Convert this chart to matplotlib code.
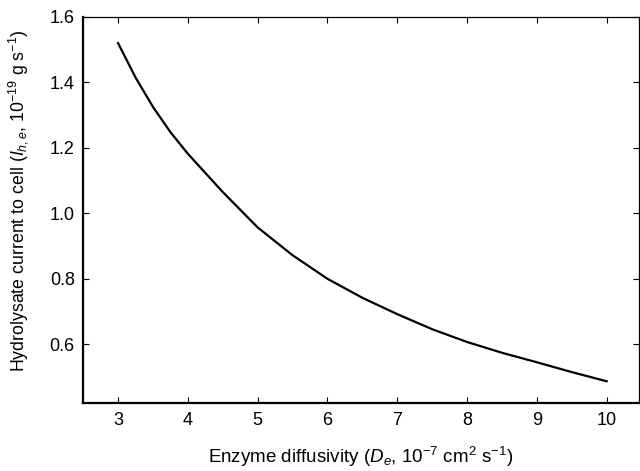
import matplotlib

matplotlib.use('Agg')
import matplotlib.pyplot as plt

plt.rcParams['font.family'] = ['Liberation Sans', 'DejaVu Sans']
plt.rcParams['mathtext.fontset'] = 'custom'
plt.rcParams['mathtext.rm'] = 'Liberation Sans'
plt.rcParams['mathtext.it'] = 'Liberation Sans:italic'

# curve
diffusivity = [3.0, 3.25, 3.5, 3.75, 4.0, 4.5, 5.0, 5.5, 6.0, 6.5, 7.0, 7.5,
               8.0, 8.5, 9.0, 9.5, 10.0]
current = [1.52, 1.415, 1.325, 1.248, 1.182, 1.065, 0.957, 0.872, 0.80, 0.742,
           0.692, 0.646, 0.607, 0.574, 0.545, 0.515, 0.487]

x_ticks = [3, 4, 5, 6, 7, 8, 9, 10]
y_ticks = [0.6, 0.8, 1.0, 1.2, 1.4, 1.6]

fig = plt.figure(figsize=(6.4, 4.71), dpi=100)
ax = fig.add_axes([0.130, 0.144, 0.868, 0.820])

ax.plot(diffusivity, current, color='black', linewidth=1.6)

ax.set_xlim(2.5, 10.46)
ax.set_ylim(0.42, 1.6)
ax.set_xticks(x_ticks)
ax.set_yticks(y_ticks)
ax.set_yticklabels([f'{v:.1f}' for v in y_ticks])
ax.tick_params(direction='in', length=4, width=0.8, labelsize=13,
               top=True, right=True, pad=6)

for side in ['left', 'bottom']:
    ax.spines[side].set_linewidth(1.6)
for side in ['top', 'right']:
    ax.spines[side].set_linewidth(0.9)

ax.set_xlabel(r'Enzyme diffusivity ($\it{D_e}$, 10$^{-7}$ cm$^{2}$ s$^{-1}$)',
              fontsize=13.5, labelpad=12)
ax.set_ylabel(r'Hydrolysate current to cell ($\it{I_{h,e}}$, 10$^{-19}$ g s$^{-1}$)',
              fontsize=12.8)
ax.yaxis.set_label_coords(-0.095, 0.525)

plt.savefig('out.png', dpi=100)
